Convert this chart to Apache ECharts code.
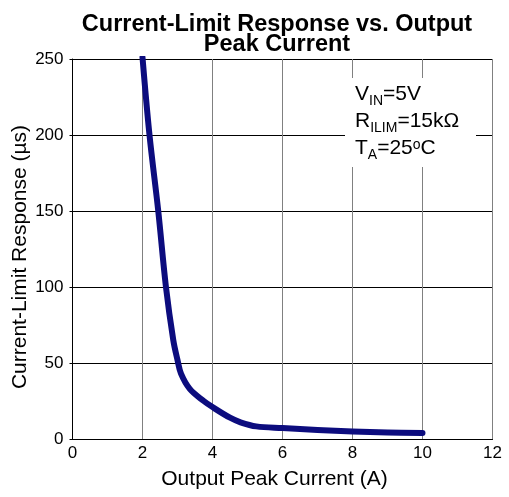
<!DOCTYPE html>
<html>
<head>
<meta charset="utf-8">
<script src="https://cdn.jsdelivr.net/npm/echarts@6/dist/echarts.min.js"></script>
<style>html,body{margin:0;padding:0;background:#fff}#c{width:509px;height:497px}</style>
</head>
<body>
<div id="c"></div>
<script>
var titleText = 'Current-Limit Response vs. Output\nPeak Current';
var xName = 'Output Peak Current (A)';
var yName = 'Current-Limit Response (µs)';
var currentA = [2.0, 2.2, 2.45, 2.67, 2.88, 3.0, 3.1, 3.35, 3.75, 4.0, 4.5, 4.8, 5.25, 6.0, 7.0, 8.0, 9.0, 10.0];
var responseUs = [251, 200, 150, 100, 65, 52, 43, 33, 25, 21, 14, 11, 8.3, 7.2, 6, 5, 4.3, 4];
var xMin = 0, xMax = 12, xStep = 2;
var yMin = 0, yMax = 250, yStep = 50;
var noteText = '{m|V}{s|IN}{m|=5V}\n{m|R}{s|ILIM}{m|=15kΩ}\n{m|T}{s|A}{m|=25}{p|o}{m|C}';

var FONT = '"Liberation Sans", Arial, sans-serif';
var chart = echarts.init(document.getElementById('c'), null, {renderer: 'canvas'});
var pts = currentA.map(function (x, i) { return [x, responseUs[i]]; });
chart.setOption({
  animation: false,
  backgroundColor: '#fff',
  title: {
    text: titleText,
    left: 272, top: 10, textAlign: 'center',
    textStyle: {fontFamily: FONT, fontWeight: 'bold', fontSize: 23.5, lineHeight: 20, color: '#000'}
  },
  grid: {left: 72.5, right: 16.5, top: 59, bottom: 58, containLabel: false, outerBoundsMode: 'none'},
  xAxis: {
    type: 'value', min: xMin, max: xMax, interval: xStep,
    name: xName, nameLocation: 'middle', nameGap: 30, nameMoveOverlap: false,
    nameTextStyle: {fontFamily: FONT, fontSize: 21, color: '#000', padding: [0, 16, 0, 0]},
    axisLine: {lineStyle: {color: '#000', width: 1}},
    axisTick: {show: false},
    axisLabel: {fontFamily: FONT, fontSize: 17, color: '#000', margin: 6},
    splitLine: {show: true, lineStyle: {color: '#808080', width: 1}}
  },
  yAxis: {
    type: 'value', min: yMin, max: yMax, interval: yStep,
    name: yName, nameLocation: 'middle', nameGap: 42, nameRotate: 90, nameMoveOverlap: false,
    nameTextStyle: {fontFamily: FONT, fontSize: 21, color: '#000', padding: [0, 16, 0, 0]},
    axisLine: {show: true, lineStyle: {color: '#000', width: 1}},
    axisTick: {show: true, length: 3, lineStyle: {color: '#000'}},
    axisLabel: {fontFamily: FONT, fontSize: 17, color: '#000', margin: 9},
    splitLine: {show: true, lineStyle: {color: '#000', width: 1}}
  },
  series: [{
    type: 'line', data: pts, smooth: 0.35, showSymbol: false, symbol: 'none',
    lineStyle: {color: '#0c0c7e', width: 6, cap: 'round', join: 'round'},
    z: 5
  }],
  graphic: [
    {type: 'rect', z: 50, shape: {x: 345, y: 78, width: 131, height: 89}, style: {fill: '#fff'}},
    {type: 'text', z: 51, x: 355, y: 81, style: {
      text: noteText, fill: '#000', font: '21px ' + FONT, verticalAlign: 'top', align: 'left',
      rich: {
        m: {fontFamily: FONT, fontSize: 21, lineHeight: 27, fill: '#000'},
        s: {fontFamily: FONT, fontSize: 14, lineHeight: 14, verticalAlign: 'bottom', fill: '#000'},
        p: {fontFamily: FONT, fontSize: 14, lineHeight: 14, verticalAlign: 'top', padding: [3, 0, 0, 0], fill: '#000'}
      }
    }}
  ]
});
</script>
</body>
</html>
